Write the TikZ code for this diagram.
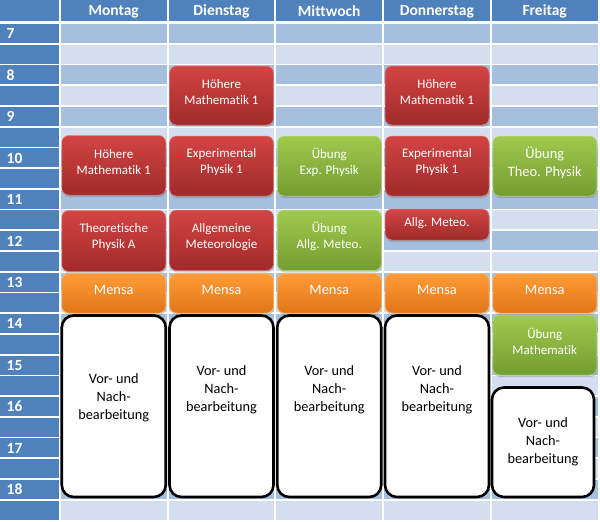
\documentclass[tikz,border=0pt]{standalone}
\usepackage{fontspec}
\setmainfont{Carlito}[Ligatures={NoCommon}]
\usetikzlibrary{shadows}
\definecolor{hdr}{HTML}{4F81BD}
\definecolor{rowdark}{HTML}{A7BFDE}
\definecolor{rowlight}{HTML}{D3DFEE}
\definecolor{redT}{HTML}{D34444}
\definecolor{redB}{HTML}{A02A2A}
\definecolor{grnT}{HTML}{9FCA4E}
\definecolor{grnB}{HTML}{739D31}
\definecolor{orgT}{HTML}{FF9C36}
\definecolor{orgB}{HTML}{E2751A}
\tikzset{
  evshadow/.style={drop shadow={shadow xshift=0.6pt, shadow yshift=-2pt, fill=black!60, opacity=0.3}},
  redev/.style={rounded corners=7pt, top color=redT, bottom color=redB, draw=redT!70!white, line width=0.5pt, evshadow},
  grnev/.style={rounded corners=7pt, top color=grnT, bottom color=grnB, draw=grnT!70!white, line width=0.5pt, evshadow},
  orgev/.style={rounded corners=7pt, top color=orgT, bottom color=orgB, draw=orgT!70!white, line width=0.5pt, evshadow},
  whiteev/.style={rounded corners=12pt, fill=white, draw=black, line width=2.6pt},
  evtxt/.style={text=white, align=center, inner sep=0pt, font=\fontsize{13}{16}\selectfont},
  bigtxt/.style={text=white, align=center, inner sep=0pt, font=\fontsize{14.4}{18}\selectfont},
  wtxt/.style={text=black, align=center, inner sep=0pt, font=\fontsize{14.3}{18}\selectfont},
  hdrtxt/.style={text=white, inner sep=0pt, font=\bfseries\fontsize{15.5}{18}\selectfont},
  hourtxt/.style={text=white, inner sep=0pt, anchor=west, font=\bfseries\fontsize{15.5}{18}\selectfont}
}
% #1 name, #2 column, #3 top, #4 bottom, #5 box style, #6 text style, #7 text, #8 text shift up
\newcommand{\evbox}[8]{%
  \path[#5] ({60.75+107.75*#2+1},-#3) rectangle ({60.75+107.75*#2+105},-#4);
  \node[#6] (#1) at ({60.75+107.75*#2+53},{-(#3+#4)/2+#8}) {#7};
}
\begin{document}
\begin{tikzpicture}[x=1pt,y=1pt]
\useasboundingbox (0,0) rectangle (600,-522);
\fill[white] (0,0) rectangle (600,-522);
% header
\fill[hdr] (0,0) rectangle (58.5,-20.5);
\foreach \i/\d in {0/Montag,1/Dienstag,2/Mittwoch,3/Donnerstag,4/Freitag}{
  \fill[hdr] ({60.75+107.75*\i},0) rectangle ({60.75+107.75*\i+105.75},-20.5);
  \node[hdrtxt] (h\i) at ({60.75+107.75*\i+52.9},-11.5) {\d};
}
% rows
\foreach \k in {0,2,...,22}{
  \fill[hdr] (0,{-(24+20.72*\k)}) rectangle (58.5,{-(24+20.72*\k+19)});
  \fill[rowdark] (60.75,{-(24+20.72*\k)}) rectangle (597.5,{-(24+20.72*\k+19)});
}
\foreach \k in {1,3,...,23}{
  \fill[hdr] (0,{-(24+20.72*\k)}) rectangle (58.5,{-(24+20.72*\k+19)});
  \fill[rowlight] (60.75,{-(24+20.72*\k)}) rectangle (597.5,{-(24+20.72*\k+19)});
}
\foreach \i in {1,2,3,4}{
  \fill[white] ({60.75+107.75*\i-2},-22) rectangle ({60.75+107.75*\i},-522);
}
% hours
\foreach \h in {7,...,18}{
  \node[hourtxt] (t\h) at (6.5,{-(24+41.44*(\h-7)+9.8)}) {\h};
}
% events
\evbox{diHM}{1}{66}{125}{redev}{evtxt}{Höhere\\Mathematik 1}{3}
\evbox{doHM}{3}{66}{125}{redev}{evtxt}{Höhere\\Mathematik 1}{3}
\evbox{moHM}{0}{135.5}{195}{redev}{evtxt}{Höhere\\Mathematik 1}{3.5}
\evbox{diEP}{1}{136}{196}{redev}{evtxt}{Experimental\\Physik 1}{3.5}
\evbox{miUE}{2}{136}{196}{grnev}{evtxt}{Übung\\Exp. Physik}{3.5}
\evbox{doEP}{3}{136}{196}{redev}{evtxt}{Experimental\\Physik 1}{3.5}
\evbox{frUT}{4}{136}{196}{grnev}{bigtxt}{Übung\\Theo. Physik}{3.5}
\evbox{moTP}{0}{210.5}{271.5}{redev}{evtxt}{Theoretische\\Physik A}{3.5}
\evbox{diAM}{1}{210}{270.5}{redev}{evtxt}{Allgemeine\\Meteorologie}{3.5}
\evbox{miUA}{2}{210}{270.5}{grnev}{evtxt}{Übung\\Allg. Meteo.}{3.5}
\evbox{doAM}{3}{209}{240}{redev}{evtxt}{Allg. Meteo.}{1}
\foreach \i in {0,1,2,3,4}{
  \evbox{me\i}{\i}{273.5}{313}{orgev}{bigtxt}{Mensa}{3}
}
\evbox{moVN}{0}{315.5}{497}{whiteev}{wtxt}{Vor- und\\Nach-\\bearbeitung}{8.5}
\evbox{diVN}{1}{315.5}{497}{whiteev}{wtxt}{Vor- und\\Nach-\\bearbeitung}{16.5}
\evbox{miVN}{2}{315.5}{497}{whiteev}{wtxt}{Vor- und\\Nach-\\bearbeitung}{16.5}
\evbox{doVN}{3}{315.5}{497}{whiteev}{wtxt}{Vor- und\\Nach-\\bearbeitung}{16.5}
\evbox{frUM}{4}{315}{375}{grnev}{evtxt}{Übung\\Mathematik}{3.5}
\path[whiteev] (492,-387.5) rectangle (594,-497);
\node[wtxt] (frVN) at (543,-442) {Vor- und\\Nach-\\bearbeitung};
\end{tikzpicture}
\end{document}
